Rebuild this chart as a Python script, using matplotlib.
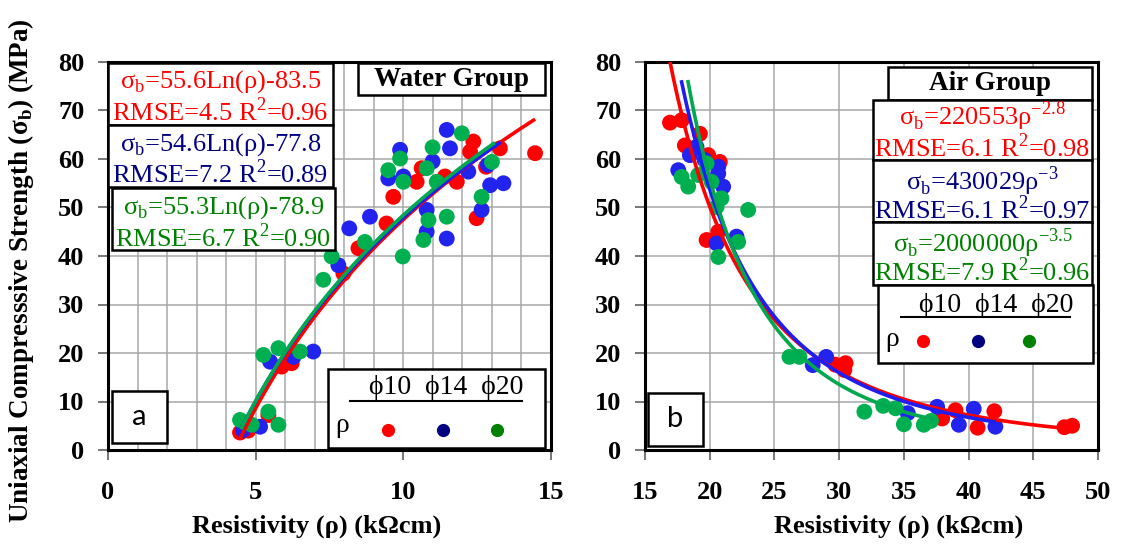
import numpy as np
import matplotlib
matplotlib.use("Agg")
import matplotlib.pyplot as plt
from matplotlib.patches import Rectangle
from matplotlib.lines import Line2D

plt.rcParams['font.family'] = ['Liberation Serif', 'DejaVu Serif']
plt.rcParams['mathtext.fontset'] = 'custom'
plt.rcParams['mathtext.rm'] = 'Liberation Serif'

# ---------------- data: Water group (panel a) ----------------
water_x_phi10 = [4.47, 4.75, 5.43, 5.88, 6.22, 7.97, 8.48, 9.43, 9.66, 10.45, 10.62, 11.41,
                 11.81, 12.26, 12.37, 12.80, 12.48, 13.27, 14.46]
water_y_phi10 = [3.6, 4.0, 7.2, 17.2, 17.9, 36.4, 41.6, 46.7, 52.2, 55.3, 58.1, 56.4,
                 55.3, 61.5, 63.6, 58.4, 47.8, 62.2, 61.2]
water_x_phi14 = [4.57, 5.15, 5.49, 6.28, 6.95, 7.80, 8.17, 8.87, 9.49, 9.89, 10.00, 10.79,
                 10.79, 10.99, 11.47, 11.47, 11.58, 12.20, 12.65, 12.86, 12.94, 13.39]
water_y_phi14 = [4.1, 4.8, 18.2, 19.2, 20.3, 38.1, 45.7, 48.1, 56.0, 61.9, 56.4, 49.5,
                 45.0, 59.5, 43.6, 66.0, 62.2, 57.4, 49.5, 58.8, 54.6, 55.0]
water_x_phi20 = [4.47, 4.87, 5.43, 5.77, 5.26, 5.77, 6.50, 7.29, 7.57, 8.70, 9.49, 9.89,
                 9.98, 10.00, 10.68, 10.79, 10.85, 10.99, 11.13, 11.47, 11.98, 12.65, 13.00]
water_y_phi20 = [6.2, 5.2, 7.9, 5.2, 19.6, 21.0, 20.3, 35.1, 39.9, 42.9, 57.7, 60.1,
                 39.9, 55.3, 43.3, 58.1, 47.4, 62.4, 55.3, 48.1, 65.3, 52.2, 59.4]
# log trends: sigma = a*ln(rho) + b (printed equations)
water_fit_a = [55.6, 54.6, 55.3]
water_fit_b = [-83.5, -77.8, -78.9]
# the drawn red trendline follows the plotted points more than its printed equation
water_fit_from_points = [True, False, False]
water_fit_range = [(4.47, 14.46), (4.5, 13.3), (4.5, 13.1)]
water_eq = ["σ$_{\\mathregular{b}}$=55.6Ln(ρ)-83.5", "σ$_{\\mathregular{b}}$=54.6Ln(ρ)-77.8",
            "σ$_{\\mathregular{b}}$=55.3Ln(ρ)-78.9"]
water_stats = ["RMSE=4.5 R$^{\\mathregular{2}}$=0.96", "RMSE=7.2 R$^{\\mathregular{2}}$=0.89",
               "RMSE=6.7 R$^{\\mathregular{2}}$=0.90"]

# ---------------- data: Air group (panel b) ----------------
air_x_phi10 = [16.93, 17.83, 18.08, 19.24, 19.88, 20.78, 19.76, 20.66, 30.50, 30.40, 29.70,
               37.96, 38.99, 40.70, 41.99, 47.40, 48.00]
air_y_phi10 = [67.5, 68.0, 62.8, 65.2, 60.8, 59.4, 43.3, 45.0, 17.9, 16.5, 17.6,
               6.5, 8.2, 4.6, 8.0, 4.7, 5.0]
air_x_phi14 = [17.57, 18.47, 18.98, 19.60, 20.66, 20.66, 21.04, 20.53, 22.07, 27.96, 29.00,
               35.30, 37.57, 39.25, 40.40, 42.07]
air_y_phi14 = [57.7, 60.8, 62.5, 59.8, 58.4, 57.0, 54.3, 42.6, 44.0, 17.5, 19.2,
               7.6, 8.9, 5.2, 8.5, 4.8]
air_x_phi20 = [17.83, 18.34, 19.11, 19.76, 20.14, 20.91, 20.53, 22.97, 22.20, 20.66, 26.16,
               26.93, 31.95, 33.40, 34.36, 35.00, 36.54, 37.10]
air_y_phi20 = [56.3, 54.3, 56.7, 59.1, 55.3, 51.9, 50.1, 49.5, 42.9, 39.8, 19.2,
               19.2, 7.9, 9.1, 8.6, 5.3, 5.2, 6.0]
# power trends: sigma = a*rho^b
air_fit_a = [220553, 430029, 2000000]
air_fit_b = [-2.8, -3.0, -3.5]
air_fit_range = [(16.9, 47.8), (17.8, 42.1), (18.3, 37.3)]
air_eq = ["σ$_{\\mathregular{b}}$=220553ρ$^{\\mathregular{-2.8}}$",
          "σ$_{\\mathregular{b}}$=430029ρ$^{\\mathregular{-3}}$",
          "σ$_{\\mathregular{b}}$=2000000ρ$^{\\mathregular{-3.5}}$"]
air_stats = ["RMSE=6.1 R$^{\\mathregular{2}}$=0.98", "RMSE=6.1 R$^{\\mathregular{2}}$=0.97",
             "RMSE=7.9 R$^{\\mathregular{2}}$=0.96"]

series_labels = ["ϕ10", "ϕ14", "ϕ20"]
dot_colors = ["#FF0000", "#2323EE", "#00B050"]
line_colors = ["#FF0000", "#1E1EF0", "#00A84F"]
text_colors = ["#FF0000", "#000080", "#008000"]
legend_colors = ["#FF0000", "#000080", "#008000"]

W, H = 1126, 552
fig = plt.figure(figsize=(W / 100, H / 100), dpi=100)


def fx(px):
    return px / W


def fy(py):
    return 1 - py / H


def axes_rect(x0, y0, x1, y1):
    return [fx(x0), fy(y1), (x1 - x0) / W, (y1 - y0) / H]


axA = fig.add_axes(axes_rect(108, 62, 551, 450))
axB = fig.add_axes(axes_rect(645, 62, 1098, 450))

grid_col = "#A8A8A8"

for ax in (axA, axB):
    ax.set_ylim(0, 80)
    ax.set_yticks(np.arange(0, 81, 10))
    for sp in ax.spines.values():
        sp.set_linewidth(2.2)
        sp.set_color('black')
    ax.tick_params(axis='both', direction='out', length=7, width=1.2, color='#606060')
    ax.tick_params(axis='y', pad=10)
    ax.tick_params(axis='x', pad=15)
    ax.set_axisbelow(True)

# Panel a
axA.set_xlim(0, 15)
axA.set_xticks([0, 5, 10, 15])
axA.set_xticks(np.arange(0, 15.1, 1), minor=True)
axA.tick_params(axis='x', which='minor', length=0)
axA.grid(True, which='major', axis='y', color=grid_col, lw=1.1)
axA.grid(True, which='minor', axis='x', color=grid_col, lw=1.1)
axA.grid(True, which='major', axis='x', color=grid_col, lw=1.1)

# Panel b
axB.set_xlim(15, 50)
axB.set_xticks(np.arange(15, 51, 5))
axB.grid(True, which='major', color=grid_col, lw=1.1)

for ax in (axA, axB):
    for lab in ax.get_xticklabels() + ax.get_yticklabels():
        lab.set_fontsize(19)
        lab.set_fontweight('bold')

# scatter
ms = 130
wx = [water_x_phi10, water_x_phi14, water_x_phi20]
wy = [water_y_phi10, water_y_phi14, water_y_phi20]
ax_ = [air_x_phi10, air_x_phi14, air_x_phi20]
ay_ = [air_y_phi10, air_y_phi14, air_y_phi20]
for i in range(3):
    axA.scatter(wx[i], wy[i], s=ms, color=dot_colors[i], edgecolors='none', zorder=3,
                label=series_labels[i])
    axB.scatter(ax_[i], ay_[i], s=ms, color=dot_colors[i], edgecolors='none', zorder=3,
                label=series_labels[i])

# trend lines
for i in range(3):
    lo, hi = water_fit_range[i]
    xs = np.linspace(lo, hi, 200)
    if water_fit_from_points[i]:
        slope, icpt = np.polyfit(np.log(wx[i]), wy[i], 1)
    else:
        slope, icpt = water_fit_a[i], water_fit_b[i]
    axA.plot(xs, slope * np.log(xs) + icpt, color=line_colors[i],
             lw=2.6, zorder=4, solid_capstyle='butt')
    lo, hi = air_fit_range[i]
    xs = np.linspace(lo, hi, 300)
    axB.plot(xs, air_fit_a[i] * xs ** air_fit_b[i], color=line_colors[i],
             lw=2.6, zorder=4, solid_capstyle='butt')

axA.set_xlabel("Resistivity (ρ) (kΩcm)", fontsize=19, fontweight='bold')
axB.set_xlabel("Resistivity (ρ) (kΩcm)", fontsize=19, fontweight='bold')
axA.xaxis.set_label_coords(0.47, -0.166)
axB.xaxis.set_label_coords(0.56, -0.166)
fig.text(fx(21), fy(271), "Uniaxial Compresssive Strength (σ$_{\\mathregular{b}}$) (MPa)",
         rotation=90, ha='center', va='center', fontsize=19.5, fontweight='bold')


# ---------- annotation boxes ----------
def box(x0, y0, x1, y1, lw=1.8):
    fig.add_artist(Rectangle((fx(x0), fy(y1)), (x1 - x0) / W, (y1 - y0) / H,
                             transform=fig.transFigure, facecolor='white',
                             edgecolor='black', lw=lw, zorder=5))


def ftext(px, py, s, **kw):
    kw.setdefault('ha', 'center')
    kw.setdefault('va', 'center')
    fig.text(fx(px), fy(py), s, zorder=6, **kw)


eqsize = 19
# Panel a
box(358, 63, 545, 95)
ftext(451, 79, "Water Group", fontsize=19.5, fontweight='bold')
a_boxes = [(108, 63, 333, 125), (108, 125, 333, 187), (112, 188, 335, 250)]
a_l1 = [82, 145, 208]
a_l2 = [112, 174, 238]
for i in range(3):
    box(*a_boxes[i])
    cx = (a_boxes[i][0] + a_boxes[i][2]) / 2
    ftext(cx, a_l1[i], water_eq[i], fontsize=eqsize, color=text_colors[i])
    ftext(cx, a_l2[i], water_stats[i], fontsize=eqsize, color=text_colors[i])

box(112, 391, 167, 443)
ftext(139, 417, "a", fontsize=21, family='Lato')

# legend panel a
box(328, 369, 545, 448)
ftext(446, 388, "  ".join(series_labels), fontsize=20)
fig.add_artist(Line2D([fx(350), fx(522)], [fy(401), fy(401)], color='black', lw=1.5,
                      transform=fig.transFigure, zorder=6))
ftext(342, 425, "ρ", fontsize=20)
for i, px in enumerate([388, 443, 497]):
    fig.add_artist(Line2D([fx(px)], [fy(430)], marker='o', ms=9.5, color=legend_colors[i],
                          mec='none', transform=fig.transFigure, zorder=6))

# Panel b
box(888, 67, 1092, 100)
ftext(990, 84, "Air Group", fontsize=19.5, fontweight='bold')
b_boxes = [(873, 100, 1092, 160), (873, 160, 1092, 222), (873, 222, 1092, 285)]
b_l1 = [116, 181, 243]
b_l2 = [148, 210, 272]
for i in range(3):
    box(*b_boxes[i])
    cx = (b_boxes[i][0] + b_boxes[i][2]) / 2
    ftext(cx, b_l1[i], air_eq[i], fontsize=eqsize, color=text_colors[i])
    ftext(cx, b_l2[i], air_stats[i], fontsize=eqsize, color=text_colors[i])

box(878, 285, 1093, 363)
ftext(996, 305, "  ".join(series_labels), fontsize=20)
fig.add_artist(Line2D([fx(901), fx(1070)], [fy(317), fy(317)], color='black', lw=1.5,
                      transform=fig.transFigure, zorder=6))
ftext(892, 340, "ρ", fontsize=20)
for i, px in enumerate([923, 978, 1029]):
    fig.add_artist(Line2D([fx(px)], [fy(341)], marker='o', ms=9.5, color=legend_colors[i],
                          mec='none', transform=fig.transFigure, zorder=6))

box(648, 393, 703, 446)
ftext(675, 419, "b", fontsize=21, family='Lato')

fig.savefig("out.png", dpi=100)
